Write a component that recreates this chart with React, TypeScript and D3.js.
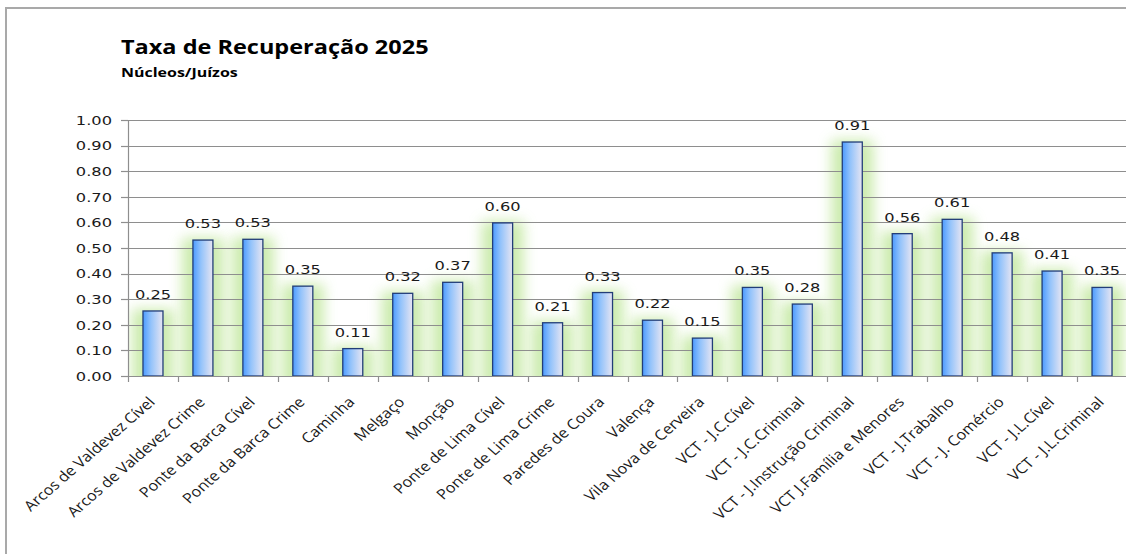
import React, { useEffect, useRef } from "react";
import * as d3 from "d3";

const categories = [
  "Arcos de Valdevez Cível",
  "Arcos de Valdevez Crime",
  "Ponte da Barca Cível",
  "Ponte da Barca Crime",
  "Caminha",
  "Melgaço",
  "Monção",
  "Ponte de Lima Cível",
  "Ponte de Lima Crime",
  "Paredes de Coura",
  "Valença",
  "Vila Nova de Cerveira",
  "VCT - J.C.Cível",
  "VCT - J.C.Criminal",
  "VCT - J.Instrução Criminal",
  "VCT J.Família e Menores",
  "VCT - J.Trabalho",
  "VCT - J. Comércio",
  "VCT - J.L.Cível",
  "VCT - J.L.Criminal",
];
const values = [
  0.254, 0.531, 0.534, 0.351, 0.107, 0.323, 0.366, 0.598, 0.208, 0.326,
  0.218, 0.148, 0.346, 0.281, 0.914, 0.556, 0.612, 0.481, 0.41, 0.346,
];
const yTicks = [0, 0.1, 0.2, 0.3, 0.4, 0.5, 0.6, 0.7, 0.8, 0.9, 1.0];
const title = "Taxa de Recuperação 2025";
const subtitle = "Núcleos/Juízos";

const W = 1126;
const H = 554;
const S = 1.25; // horizontal text stretch
const SL = 1.15; // stretch for rotated labels

export default function App() {
  const ref = useRef<SVGSVGElement>(null);

  useEffect(() => {
    const svg = d3.select(ref.current);
    svg.selectAll("*").remove();

    const left = 128;
    const right = 1127;
    const top = 120;
    const bottom = 376;

    const x = d3.scaleBand<string>().domain(categories).range([left, right]).padding(0);
    const y = d3.scaleLinear().domain([0, 1]).range([bottom, top]);
    const step = x.step();
    const bw = 20;

    const defs = svg.append("defs");
    const grad = defs
      .append("linearGradient")
      .attr("id", "barGrad")
      .attr("x1", 0)
      .attr("x2", 1)
      .attr("y1", 0)
      .attr("y2", 0);
    grad.append("stop").attr("offset", "0%").attr("stop-color", "#4c9bff");
    grad.append("stop").attr("offset", "40%").attr("stop-color", "#93c3fb");
    grad.append("stop").attr("offset", "100%").attr("stop-color", "#e7e5f2");

    const f = defs
      .append("filter")
      .attr("id", "glow")
      .attr("x", "-150%")
      .attr("y", "-50%")
      .attr("width", "400%")
      .attr("height", "200%");
    f.append("feGaussianBlur").attr("stdDeviation", 6.5);

    defs
      .append("clipPath")
      .attr("id", "plotClip")
      .append("rect")
      .attr("x", left)
      .attr("y", 60)
      .attr("width", W - left)
      .attr("height", bottom - 60);

    svg.append("rect").attr("width", W).attr("height", H).attr("fill", "#ffffff");

    // frame
    svg
      .append("rect")
      .attr("x", 6)
      .attr("y", 8)
      .attr("width", W + 20)
      .attr("height", H + 20)
      .attr("fill", "none")
      .attr("stroke", "#a9a9a9")
      .attr("stroke-width", 2);

    // title
    svg
      .append("text")
      .attr("transform", `translate(121,54) scale(${S},1)`)
      .attr("font-family", "'Open Sans', Lato, sans-serif")
      .attr("font-weight", 700)
      .attr("font-size", 18.8)
      .attr("fill", "#000")
      .text(title);
    svg
      .append("text")
      .attr("transform", `translate(121,77) scale(${S},1)`)
      .attr("font-family", "'Open Sans', Lato, sans-serif")
      .attr("font-weight", 700)
      .attr("font-size", 12.8)
      .attr("fill", "#000")
      .text(subtitle);

    // glow
    const glow = svg.append("g").attr("clip-path", "url(#plotClip)");
    glow
      .selectAll("rect")
      .data(values)
      .join("rect")
      .attr("x", (_, i) => x(categories[i])! + (step - bw) / 2 - 11)
      .attr("y", (d) => y(d) - 2)
      .attr("width", bw + 22)
      .attr("height", (d) => bottom - y(d) + 20)
      .attr("fill", "#c3e8a0")
      .attr("opacity", 0.85)
      .attr("filter", "url(#glow)");

    // gridlines
    svg
      .append("g")
      .selectAll("line")
      .data(yTicks.filter((t) => t > 0))
      .join("line")
      .attr("x1", left)
      .attr("x2", W)
      .attr("y1", (d) => Math.round(y(d)) + 0.5)
      .attr("y2", (d) => Math.round(y(d)) + 0.5)
      .attr("stroke", "#8e8e8e")
      .attr("stroke-width", 1.2);

    // bars
    svg
      .append("g")
      .selectAll("rect")
      .data(values)
      .join("rect")
      .attr("x", (_, i) => x(categories[i])! + (step - bw) / 2)
      .attr("y", (d) => y(d))
      .attr("width", bw)
      .attr("height", (d) => bottom - y(d))
      .attr("fill", "url(#barGrad)")
      .attr("stroke", "#223d78")
      .attr("stroke-width", 1.3);

    // axes
    const axisColor = "#8e8e8e";
    svg
      .append("line")
      .attr("x1", left + 0.5)
      .attr("x2", left + 0.5)
      .attr("y1", top)
      .attr("y2", bottom)
      .attr("stroke", axisColor)
      .attr("stroke-width", 1.2);
    svg
      .append("line")
      .attr("x1", left)
      .attr("x2", W)
      .attr("y1", bottom + 0.5)
      .attr("y2", bottom + 0.5)
      .attr("stroke", axisColor)
      .attr("stroke-width", 1.2);

    svg
      .append("g")
      .selectAll("line")
      .data(yTicks)
      .join("line")
      .attr("x1", left - 7)
      .attr("x2", left)
      .attr("y1", (d) => Math.round(y(d)) + 0.5)
      .attr("y2", (d) => Math.round(y(d)) + 0.5)
      .attr("stroke", axisColor)
      .attr("stroke-width", 1.2);

    const boundaries = d3.range(categories.length + 1).map((k) => left + k * step);
    svg
      .append("g")
      .selectAll("line")
      .data(boundaries)
      .join("line")
      .attr("x1", (d) => Math.round(d) + 0.5)
      .attr("x2", (d) => Math.round(d) + 0.5)
      .attr("y1", bottom)
      .attr("y2", bottom + 6)
      .attr("stroke", axisColor)
      .attr("stroke-width", 1.2);

    // y tick labels
    svg
      .append("g")
      .selectAll("text")
      .data(yTicks)
      .join("text")
      .attr("transform", (d) => `translate(112,${y(d) + 4.7}) scale(${S},1)`)
      .attr("text-anchor", "end")
      .attr("font-family", "'DejaVu Sans', Verdana, sans-serif")
      .attr("font-size", 13)
      .attr("fill", "#1a1a1a")
      .text((d) => d3.format(".2f")(d));

    // value labels
    svg
      .append("g")
      .selectAll("text")
      .data(values)
      .join("text")
      .attr(
        "transform",
        (d, i) => `translate(${x(categories[i])! + step / 2},${y(d) - 12}) scale(${S},1)`
      )
      .attr("text-anchor", "middle")
      .attr("font-family", "'DejaVu Sans', Verdana, sans-serif")
      .attr("font-size", 13)
      .attr("fill", "#1a1a1a")
      .text((d) => d3.format(".2f")(d));

    // category labels
    svg
      .append("g")
      .selectAll("text")
      .data(categories)
      .join("text")
      .attr(
        "transform",
        (d) => `translate(${x(d)! + step / 2 + 3},403) scale(${SL},1) rotate(-45)`
      )
      .attr("text-anchor", "end")
      .attr("font-family", "'Open Sans', Lato, sans-serif")
      .attr("font-size", 14.2)
      .attr("fill", "#1a1a1a")
      .text((d) => d);
  }, []);

  return (
    <svg
      ref={ref}
      width={W}
      height={H}
      style={{ position: "absolute", left: 0, top: 0, display: "block" }}
    />
  );
}
